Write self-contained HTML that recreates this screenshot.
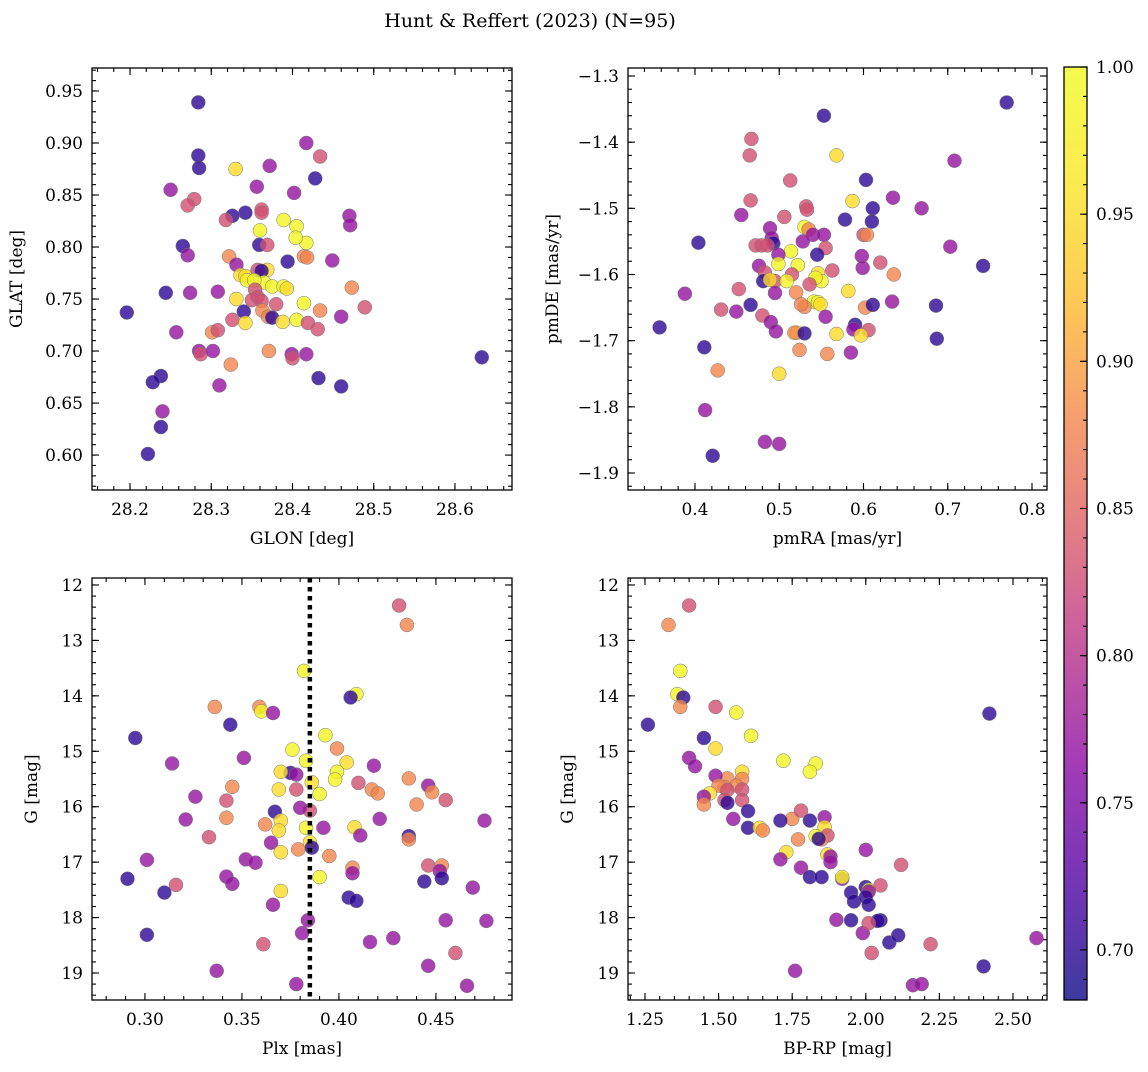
<!DOCTYPE html>
<html><head><meta charset="utf-8">
<style>
html,body{margin:0;padding:0;background:#fff;}
svg text{font-family:"DejaVu Serif","Liberation Serif",serif;fill:#000;}
</style></head>
<body>
<svg id="chart" width="1148" height="1067" xmlns="http://www.w3.org/2000/svg">
<text x="530" y="27" font-size="19" text-anchor="middle">Hunt &amp; Reffert (2023) (N=95)</text>
</svg>
<script>
// probability classes: 0.70 dark, 0.77 purple, 0.83 magenta, 0.88 salmon, 0.95 orange, 0.99 yellow
const glonGlat = [[28.284,0.939,.70],[28.284,0.888,.70],[28.285,0.876,.70],[28.330,0.875,.95],[28.250,0.855,.77],[28.279,0.846,.83],[28.271,0.840,.83],[28.417,0.900,.77],[28.434,0.887,.83],[28.428,0.866,.70],[28.372,0.878,.77],[28.402,0.852,.77],[28.356,0.858,.77],[28.342,0.833,.70],[28.326,0.830,.70],[28.318,0.826,.83],[28.362,0.836,.83],[28.362,0.833,.83],[28.389,0.826,.99],[28.405,0.820,.99],[28.417,0.804,.99],[28.404,0.809,.99],[28.360,0.816,.99],[28.470,0.830,.77],[28.471,0.821,.77],[28.265,0.801,.70],[28.271,0.792,.77],[28.322,0.791,.88],[28.359,0.802,.70],[28.369,0.802,.83],[28.394,0.786,.70],[28.414,0.791,.88],[28.418,0.790,.88],[28.449,0.787,.77],[28.331,0.783,.77],[28.336,0.773,.95],[28.342,0.772,.95],[28.344,0.768,.99],[28.369,0.778,.95],[28.357,0.778,.83],[28.362,0.777,.70],[28.365,0.766,.99],[28.353,0.768,.99],[28.375,0.762,.99],[28.389,0.762,.99],[28.393,0.760,.95],[28.354,0.759,.83],[28.357,0.752,.83],[28.350,0.749,.83],[28.331,0.750,.95],[28.362,0.748,.83],[28.244,0.756,.70],[28.274,0.756,.77],[28.308,0.757,.77],[28.473,0.761,.88],[28.489,0.742,.83],[28.380,0.745,.83],[28.414,0.746,.99],[28.340,0.738,.70],[28.363,0.739,.88],[28.370,0.733,.88],[28.375,0.732,.70],[28.326,0.730,.83],[28.342,0.727,.95],[28.388,0.728,.95],[28.405,0.730,.99],[28.419,0.727,.83],[28.434,0.739,.88],[28.460,0.733,.77],[28.196,0.737,.70],[28.257,0.718,.77],[28.301,0.718,.88],[28.308,0.720,.83],[28.431,0.721,.83],[28.285,0.700,.77],[28.287,0.697,.83],[28.302,0.700,.77],[28.371,0.700,.88],[28.399,0.697,.77],[28.400,0.693,.83],[28.417,0.697,.77],[28.324,0.687,.88],[28.633,0.694,.70],[28.238,0.676,.70],[28.228,0.670,.70],[28.432,0.674,.70],[28.310,0.667,.77],[28.460,0.666,.70],[28.240,0.642,.77],[28.238,0.627,.70],[28.222,0.601,.70]];
const pmraPmde = [[0.77,-1.34,.70],[0.553,-1.36,.70],[0.467,-1.395,.83],[0.465,-1.42,.83],[0.568,-1.42,.95],[0.708,-1.428,.77],[0.513,-1.458,.83],[0.603,-1.457,.70],[0.635,-1.484,.77],[0.466,-1.488,.83],[0.587,-1.489,.95],[0.532,-1.497,.83],[0.533,-1.502,.83],[0.611,-1.5,.70],[0.669,-1.5,.77],[0.455,-1.51,.77],[0.506,-1.513,.83],[0.578,-1.517,.70],[0.61,-1.52,.70],[0.53,-1.528,.99],[0.489,-1.53,.77],[0.535,-1.532,.88],[0.54,-1.54,.77],[0.553,-1.54,.77],[0.6,-1.54,.83],[0.604,-1.54,.88],[0.491,-1.545,.77],[0.493,-1.553,.70],[0.404,-1.552,.70],[0.472,-1.556,.83],[0.479,-1.556,.83],[0.486,-1.556,.83],[0.528,-1.55,.77],[0.514,-1.565,.99],[0.499,-1.57,.77],[0.555,-1.56,.83],[0.545,-1.57,.70],[0.598,-1.572,.77],[0.703,-1.558,.77],[0.742,-1.587,.70],[0.499,-1.584,.99],[0.522,-1.586,.99],[0.476,-1.587,.77],[0.483,-1.597,.83],[0.515,-1.6,.83],[0.563,-1.594,.83],[0.546,-1.598,.95],[0.55,-1.61,.99],[0.543,-1.605,.99],[0.599,-1.59,.77],[0.62,-1.582,.83],[0.636,-1.6,.88],[0.495,-1.61,.83],[0.481,-1.61,.70],[0.489,-1.608,.95],[0.509,-1.61,.99],[0.536,-1.615,.83],[0.582,-1.625,.95],[0.602,-1.65,.88],[0.611,-1.646,.70],[0.634,-1.641,.77],[0.388,-1.629,.77],[0.452,-1.622,.83],[0.495,-1.628,.77],[0.52,-1.627,.88],[0.541,-1.641,.99],[0.546,-1.642,.99],[0.549,-1.645,.95],[0.53,-1.649,.88],[0.526,-1.645,.88],[0.466,-1.646,.70],[0.431,-1.653,.83],[0.449,-1.656,.77],[0.48,-1.662,.83],[0.555,-1.664,.77],[0.686,-1.647,.70],[0.59,-1.676,.70],[0.588,-1.683,.77],[0.606,-1.684,.83],[0.597,-1.692,.95],[0.568,-1.69,.95],[0.521,-1.688,.95],[0.518,-1.688,.88],[0.53,-1.689,.70],[0.49,-1.672,.77],[0.496,-1.686,.77],[0.358,-1.68,.70],[0.687,-1.697,.70],[0.411,-1.71,.70],[0.524,-1.714,.88],[0.557,-1.72,.88],[0.585,-1.718,.77],[0.427,-1.745,.88],[0.5,-1.75,.95],[0.412,-1.805,.77],[0.483,-1.853,.77],[0.5,-1.856,.77],[0.421,-1.874,.70]];
const plxG = [[0.431,12.37,.83],[0.435,12.72,.88],[0.382,13.55,.99],[0.409,13.97,.99],[0.406,14.03,.70],[0.336,14.2,.88],[0.359,14.2,.88],[0.36,14.28,.99],[0.366,14.31,.77],[0.344,14.52,.70],[0.295,14.76,.70],[0.393,14.71,.99],[0.376,14.97,.99],[0.399,14.95,.88],[0.351,15.12,.77],[0.383,15.17,.99],[0.404,15.2,.95],[0.314,15.22,.77],[0.418,15.26,.77],[0.436,15.49,.88],[0.375,15.39,.70],[0.37,15.37,.95],[0.399,15.37,.99],[0.398,15.51,.99],[0.378,15.42,.77],[0.386,15.56,.95],[0.39,15.77,.99],[0.41,15.57,.83],[0.417,15.69,.88],[0.42,15.76,.88],[0.446,15.62,.77],[0.448,15.74,.88],[0.455,15.88,.83],[0.44,15.96,.88],[0.345,15.64,.88],[0.378,15.69,.83],[0.369,15.69,.95],[0.342,15.89,.83],[0.326,15.82,.77],[0.367,16.09,.70],[0.37,16.25,.95],[0.385,16.07,.83],[0.38,16.02,.77],[0.342,16.2,.88],[0.321,16.23,.77],[0.421,16.22,.77],[0.475,16.25,.77],[0.362,16.32,.88],[0.369,16.43,.95],[0.392,16.38,.77],[0.383,16.38,.99],[0.408,16.37,.95],[0.411,16.52,.77],[0.436,16.53,.70],[0.436,16.59,.88],[0.385,16.64,.95],[0.365,16.65,.77],[0.333,16.55,.83],[0.37,16.82,.95],[0.379,16.77,.88],[0.386,16.74,.70],[0.395,16.89,.88],[0.301,16.96,.77],[0.352,16.95,.77],[0.357,17.01,.77],[0.39,17.27,.99],[0.407,17.1,.88],[0.407,17.2,.77],[0.446,17.06,.83],[0.453,17.06,.88],[0.452,17.16,.77],[0.453,17.29,.70],[0.469,17.46,.77],[0.342,17.26,.77],[0.345,17.39,.77],[0.316,17.41,.83],[0.291,17.3,.70],[0.31,17.55,.70],[0.37,17.52,.95],[0.405,17.64,.70],[0.409,17.7,.70],[0.444,17.35,.70],[0.366,17.77,.77],[0.384,18.05,.77],[0.455,18.05,.77],[0.476,18.06,.77],[0.301,18.31,.70],[0.381,18.28,.77],[0.416,18.44,.77],[0.428,18.37,.77],[0.361,18.48,.83],[0.46,18.64,.83],[0.337,18.96,.77],[0.446,18.87,.77],[0.378,19.2,.77],[0.466,19.23,.77]];
const bprpG = [[1.40,12.37,.83],[1.33,12.72,.88],[1.37,13.55,.99],[1.36,13.97,.99],[1.38,14.03,.70],[1.37,14.2,.88],[1.49,14.2,.83],[1.56,14.3,.99],[2.42,14.32,.70],[1.26,14.52,.70],[1.61,14.72,.99],[1.45,14.76,.70],[1.49,14.95,.95],[1.40,15.12,.77],[1.72,15.17,.99],[1.83,15.22,.99],[1.42,15.27,.77],[1.81,15.37,.99],[1.58,15.37,.95],[1.53,15.49,.88],[1.58,15.5,.88],[1.49,15.44,.77],[1.56,15.62,.88],[1.52,15.65,.88],[1.5,15.62,.88],[1.53,15.7,.83],[1.58,15.69,.83],[1.47,15.76,.95],[1.45,15.82,.77],[1.52,15.88,.83],[1.58,15.88,.83],[1.45,15.96,.88],[1.53,15.93,.70],[1.6,16.08,.70],[1.6,16.38,.70],[1.55,16.22,.77],[1.64,16.38,.95],[1.65,16.43,.88],[1.75,16.22,.88],[1.71,16.25,.70],[1.78,16.07,.83],[1.86,16.19,.77],[1.81,16.25,.70],[1.77,16.59,.88],[1.86,16.37,.95],[1.87,16.52,.83],[1.85,16.59,.88],[1.83,16.53,.99],[1.84,16.58,.70],[1.73,16.82,.95],[1.71,16.95,.77],[1.87,16.86,.95],[1.88,16.9,.77],[1.88,17.0,.77],[1.78,17.1,.77],[1.81,17.27,.70],[1.85,17.27,.70],[1.92,17.3,.77],[1.92,17.27,.99],[2.0,17.45,.70],[2.01,17.5,.99],[2.05,17.42,.83],[2.01,17.53,.77],[2.12,17.05,.83],[2.0,16.78,.77],[1.95,17.55,.70],[1.96,17.71,.70],[2.0,17.63,.70],[2.01,17.77,.70],[2.05,18.05,.70],[1.95,18.05,.70],[2.04,18.06,.70],[1.9,18.04,.77],[1.99,18.28,.77],[2.01,18.1,.83],[2.08,18.45,.70],[2.11,18.32,.70],[2.22,18.48,.83],[2.02,18.64,.83],[1.76,18.96,.77],[2.40,18.88,.70],[2.58,18.37,.77],[2.16,19.22,.77],[2.19,19.2,.77]];
const plxLine = [0.385];
const ticks1x = [28.2,28.3,28.4,28.5,28.6], ticks1y = [0.60,0.65,0.70,0.75,0.80,0.85,0.90,0.95];
const ticks2x = [0.4,0.5,0.6,0.7,0.8], ticks2y = [-1.9,-1.8,-1.7,-1.6,-1.5,-1.4,-1.3];
const ticks3x = [0.30,0.35,0.40,0.45], ticksGy = [12,13,14,15,16,17,18,19];
const ticks4x = [1.25,1.50,1.75,2.00,2.25,2.50];
const cbTicks = [0.70,0.75,0.80,0.85,0.90,0.95,1.00];
const CMIN = 0.683, CMAX = 1.0;

const NS = "http://www.w3.org/2000/svg";
const svg = document.getElementById('chart');
function mk(tag, attrs, parent){ const e=document.createElementNS(NS,tag); for(const k in attrs) e.setAttribute(k,attrs[k]); (parent||svg).appendChild(e); return e; }
const stops=[[0,[13,8,135]],[0.13,[84,2,163]],[0.25,[139,10,165]],[0.38,[185,50,137]],[0.5,[219,92,104]],[0.63,[244,136,73]],[0.75,[254,188,43]],[0.88,[251,231,36]],[1,[240,249,33]]];
function plasma(t){ t=Math.max(0,Math.min(1,t)); for(let i=1;i<stops.length;i++){ if(t<=stops[i][0]){ const a=stops[i-1],b=stops[i]; const f=(t-a[0])/(b[0]-a[0]); const c=a[1].map((v,j)=>Math.round(v+(b[1][j]-v)*f)); return `rgb(${c[0]},${c[1]},${c[2]})`; } } return 'rgb(240,249,33)'; }
function cmap(p){ return plasma((p-CMIN)/(CMAX-CMIN)); }
function fmt(v,d){ return (v<0?'\u2212':'')+Math.abs(v).toFixed(d); }

function panel(o){
  const g=mk('g',{});
  
  
  const X=v=>o.L+(v-o.x0)/(o.x1-o.x0)*o.W;
  const Yf = o.inv ? (v=>o.T+(v-o.y1)/(o.y0-o.y1)*o.H) : (v=>o.T+(o.y1-v)/(o.y1-o.y0)*o.H);
  o.data.forEach(d=>{
    const c=mk('circle',{cx:X(d[0]).toFixed(1),cy:Yf(d[1]).toFixed(1),r:7,fill:cmap(d[2]),'fill-opacity':0.8,stroke:'#777','stroke-width':0.5},g);
    
    
  });
  if(o.vline){ o.vline.forEach(v=>{ const l=mk('line',{x1:X(v),x2:X(v),y1:o.T,y2:o.T+o.H,stroke:'#000','stroke-width':4.5,'stroke-dasharray':'4.5 4.5'},g);
    
     }); }
  const tg=mk('g',{stroke:'#000','stroke-width':1.1},g);
  const xl=Math.min(o.x0,o.x1), xh=Math.max(o.x0,o.x1);
  for(let v=Math.ceil(xl/o.xm-1e-6)*o.xm; v<=xh+1e-9; v+=o.xm){ const x=X(v); mk('line',{x1:x,x2:x,y1:o.T,y2:o.T+4},tg); mk('line',{x1:x,x2:x,y1:o.T+o.H,y2:o.T+o.H-4},tg); }
  const yl=Math.min(o.y0,o.y1), yh=Math.max(o.y0,o.y1);
  for(let v=Math.ceil(yl/o.ym-1e-6)*o.ym; v<=yh+1e-9; v+=o.ym){ const y=Yf(v); mk('line',{x1:o.L,x2:o.L+4,y1:y,y2:y},tg); mk('line',{x1:o.L+o.W,x2:o.L+o.W-4,y1:y,y2:y},tg); }
  o.xt.forEach(v=>{ const x=X(v); mk('line',{x1:x,x2:x,y1:o.T,y2:o.T+7},tg); mk('line',{x1:x,x2:x,y1:o.T+o.H,y2:o.T+o.H-7},tg);
    const t=mk('text',{x:x,y:o.T+o.H+25,'font-size':17,'text-anchor':'middle'},g); t.textContent=fmt(v,o.xd);
    
     });
  o.yt.forEach(v=>{ const y=Yf(v); mk('line',{x1:o.L,x2:o.L+7,y1:y,y2:y},tg); mk('line',{x1:o.L+o.W,x2:o.L+o.W-7,y1:y,y2:y},tg);
    const t=mk('text',{x:o.L-9,y:y+6,'font-size':17,'text-anchor':'end'},g); t.textContent=fmt(v,o.yd);
    
     });
  const fr=mk('rect',{x:o.L,y:o.T,width:o.W,height:o.H,fill:'none',stroke:'#000','stroke-width':1.3},g);
  
  
  const xt=mk('text',{x:o.L+o.W/2,y:o.T+o.H+54,'font-size':17,'text-anchor':'middle'},g); xt.textContent=o.xlab;
  
  
  const yx=o.L-(o.ylw||62), yy=o.T+o.H/2;
  const yt=mk('text',{x:yx,y:yy,'font-size':17,'text-anchor':'middle',transform:`rotate(-90 ${yx} ${yy})`},g); yt.textContent=o.ylab;
  
  
}

panel({name:'glon-glat-panel',L:92,T:68,W:420,H:422,x0:28.1532,x1:28.6702,y0:0.5664,y1:0.9721,xt:ticks1x,yt:ticks1y,xm:0.02,ym:0.01,xd:1,yd:2,data:glonGlat,xlab:'GLON [deg]',ylab:'GLAT [deg]',ylw:70});
panel({name:'pm-panel',L:628,T:68,W:419,H:422,x0:0.3205,x1:0.8178,y0:-1.9257,y1:-1.2879,xt:ticks2x,yt:ticks2y,xm:0.02,ym:0.02,xd:1,yd:1,data:pmraPmde,xlab:'pmRA [mas/yr]',ylab:'pmDE [mas/yr]',ylw:70});
panel({name:'plx-g-panel',L:92,T:578,W:420,H:422,x0:0.2727,x1:0.4892,y0:19.487,y1:11.874,inv:true,xt:ticks3x,yt:ticksGy,xm:0.01,ym:0.2,xd:2,yd:0,data:plxG,xlab:'Plx [mas]',ylab:'G [mag]',vline:plxLine,ylw:55});
panel({name:'cmd-panel',L:628,T:578,W:419,H:422,x0:1.1923,x1:2.6155,y0:19.487,y1:11.874,inv:true,xt:ticks4x,yt:ticksGy,xm:0.05,ym:0.2,xd:2,yd:0,data:bprpG,xlab:'BP-RP [mag]',ylab:'G [mag]',ylw:55});

(function(){
  const L=1064,T=67,W=23,H=933;
  const cg=mk('g',{});
  
  
  const defs=mk('defs',{},cg);
  const lg=mk('linearGradient',{id:'cbg',x1:0,y1:1,x2:0,y2:0},defs);
  for(let i=0;i<=20;i++){ mk('stop',{offset:i/20,'stop-color':plasma(i/20),'stop-opacity':0.8},lg); }
  mk('rect',{x:L,y:T,width:W,height:H,fill:'url(#cbg)'},cg);
  const Yc=v=>T+(CMAX-v)/(CMAX-CMIN)*H;
  for(let v=0.69; v<=1.0001; v+=0.01){ mk('line',{x1:L+W,x2:L+W-4,y1:Yc(v),y2:Yc(v),stroke:'#000','stroke-width':1.1},cg); }
  cbTicks.forEach(v=>{ const y=Yc(v); mk('line',{x1:L+W,x2:L+W-7,y1:y,y2:y,stroke:'#000','stroke-width':1.1},cg);
    const t=mk('text',{x:L+W+9,y:y+6,'font-size':17},cg); t.textContent=v.toFixed(2);
    
     });
  mk('rect',{x:L,y:T,width:W,height:H,fill:'none',stroke:'#000','stroke-width':1.3},cg);
})();
</script>
</body></html>
